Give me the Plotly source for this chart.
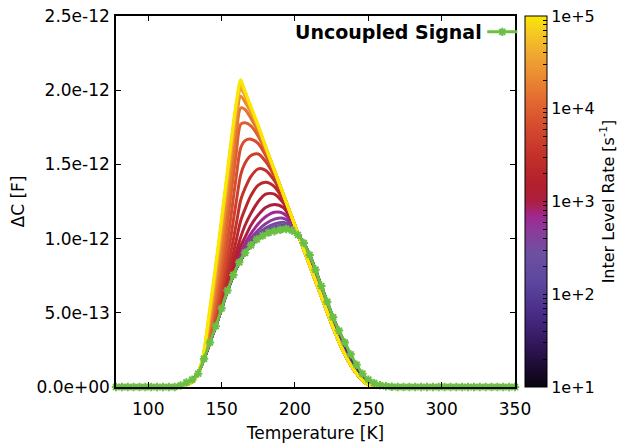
import numpy as np
import plotly.graph_objects as go
from plotly.colors import sample_colorscale

# ---------------- data (capacitance values in pF = 1e-12 F) ----------------
T_GRID = [78, 116, 122, 130, 136, 142, 148, 154, 160, 163, 166, 170, 175, 180, 186,
          192, 198, 204, 210, 218, 226, 234, 242, 250, 258, 266, 350]

RATES = [1e5, 6.81e4, 4.64e4, 3.16e4, 2.15e4, 1.47e4, 1e4, 6.81e3, 4.64e3, 3.16e3,
         2.15e3, 1.47e3, 1e3, 681, 464, 316, 215, 147, 100, 68.1, 46.4, 31.6, 21.5, 14.7, 10]

C00 = [0, 0, 0.01, 0.03, 0.15, 0.53, 0.98, 1.46, 1.92, 2.07, 1.99, 1.89, 1.76, 1.62, 1.46, 1.30, 1.14, 0.98, 0.82, 0.61, 0.40, 0.22, 0.09, 0.015, 0, 0, 0]
C01 = [0, 0, 0.01, 0.03, 0.15, 0.52, 0.96, 1.45, 1.90, 2.05, 1.99, 1.88, 1.76, 1.62, 1.46, 1.30, 1.14, 0.98, 0.82, 0.61, 0.40, 0.22, 0.09, 0.015, 0, 0, 0]
C02 = [0, 0, 0.01, 0.035, 0.15, 0.50, 0.94, 1.42, 1.89, 2.03, 1.98, 1.88, 1.75, 1.62, 1.46, 1.30, 1.14, 0.98, 0.82, 0.61, 0.40, 0.22, 0.09, 0.015, 0, 0, 0]
C03 = [0, 0, 0.01, 0.035, 0.15, 0.47, 0.90, 1.38, 1.85, 2.01, 1.96, 1.86, 1.75, 1.61, 1.46, 1.30, 1.14, 0.98, 0.82, 0.61, 0.40, 0.22, 0.09, 0.015, 0, 0, 0]
C04 = [0, 0, 0.01, 0.04, 0.145, 0.44, 0.84, 1.32, 1.80, 1.96, 1.92, 1.85, 1.74, 1.61, 1.46, 1.30, 1.14, 0.98, 0.82, 0.61, 0.40, 0.22, 0.09, 0.015, 0, 0, 0]
C05 = [0, 0, 0.01, 0.04, 0.14, 0.40, 0.76, 1.22, 1.71, 1.88, 1.87, 1.81, 1.72, 1.60, 1.45, 1.30, 1.14, 0.98, 0.82, 0.61, 0.40, 0.22, 0.09, 0.015, 0, 0, 0]
C06 = [0, 0, 0.01, 0.04, 0.14, 0.37, 0.68, 1.11, 1.58, 1.77, 1.78, 1.76, 1.69, 1.59, 1.45, 1.30, 1.14, 0.98, 0.82, 0.61, 0.40, 0.22, 0.09, 0.015, 0, 0, 0]
C07 = [0, 0, 0.01, 0.04, 0.14, 0.34, 0.61, 0.98, 1.42, 1.61, 1.66, 1.67, 1.64, 1.56, 1.44, 1.29, 1.14, 0.98, 0.82, 0.61, 0.40, 0.22, 0.09, 0.015, 0, 0, 0]
C08 = [0, 0, 0.01, 0.04, 0.14, 0.33, 0.56, 0.87, 1.25, 1.43, 1.51, 1.56, 1.57, 1.52, 1.42, 1.29, 1.14, 0.98, 0.82, 0.61, 0.40, 0.22, 0.09, 0.015, 0, 0, 0]
C09 = [0, 0, 0.01, 0.04, 0.14, 0.31, 0.52, 0.79, 1.10, 1.26, 1.34, 1.42, 1.47, 1.46, 1.39, 1.28, 1.14, 0.98, 0.82, 0.61, 0.40, 0.22, 0.09, 0.015, 0, 0, 0]
C10 = [0, 0, 0.01, 0.04, 0.14, 0.31, 0.50, 0.73, 0.99, 1.12, 1.20, 1.29, 1.36, 1.38, 1.35, 1.26, 1.13, 0.98, 0.82, 0.61, 0.40, 0.22, 0.09, 0.015, 0, 0, 0]
C11 = [0, 0, 0.01, 0.04, 0.14, 0.30, 0.49, 0.70, 0.91, 1.01, 1.09, 1.17, 1.25, 1.30, 1.30, 1.24, 1.13, 0.98, 0.82, 0.61, 0.40, 0.22, 0.09, 0.015, 0, 0, 0]
C12 = [0, 0, 0.01, 0.04, 0.14, 0.30, 0.48, 0.68, 0.86, 0.95, 1.01, 1.09, 1.16, 1.21, 1.23, 1.21, 1.12, 0.98, 0.83, 0.61, 0.40, 0.22, 0.09, 0.015, 0, 0, 0]
C13 = [0, 0, 0.01, 0.04, 0.14, 0.30, 0.475, 0.665, 0.836, 0.907, 0.967, 1.033, 1.10, 1.147, 1.177, 1.17, 1.106, 0.985, 0.832, 0.616, 0.403, 0.221, 0.091, 0.015, 0, 0, 0]
C14 = [0, 0, 0.01, 0.04, 0.14, 0.30, 0.473, 0.658, 0.82, 0.884, 0.94, 1.00, 1.058, 1.10, 1.131, 1.137, 1.093, 0.988, 0.839, 0.62, 0.405, 0.223, 0.091, 0.015, 0, 0, 0]
C15 = [0, 0, 0.01, 0.04, 0.14, 0.30, 0.471, 0.655, 0.811, 0.871, 0.925, 0.98, 1.033, 1.071, 1.099, 1.11, 1.081, 0.991, 0.848, 0.626, 0.408, 0.225, 0.092, 0.015, 0, 0, 0]
C16 = [0, 0, 0.01, 0.04, 0.14, 0.30, 0.47, 0.653, 0.806, 0.864, 0.916, 0.969, 1.018, 1.053, 1.078, 1.091, 1.072, 0.994, 0.859, 0.635, 0.414, 0.228, 0.093, 0.016, 0, 0, 0]
C17 = [0, 0, 0.01, 0.04, 0.14, 0.30, 0.47, 0.652, 0.803, 0.86, 0.911, 0.962, 1.01, 1.043, 1.066, 1.079, 1.065, 0.996, 0.868, 0.645, 0.422, 0.233, 0.095, 0.016, 0, 0, 0]
C18 = [0, 0, 0.01, 0.04, 0.14, 0.30, 0.47, 0.65, 0.802, 0.858, 0.908, 0.959, 1.006, 1.037, 1.059, 1.072, 1.061, 0.998, 0.876, 0.655, 0.432, 0.242, 0.099, 0.017, 0, 0, 0]
C19 = [0, 0, 0.01, 0.04, 0.14, 0.30, 0.47, 0.65, 0.80, 0.856, 0.907, 0.957, 1.003, 1.034, 1.055, 1.068, 1.058, 0.999, 0.882, 0.664, 0.442, 0.252, 0.104, 0.019, 0.001, 0, 0]
C20 = [0, 0, 0.01, 0.04, 0.14, 0.30, 0.47, 0.65, 0.80, 0.855, 0.906, 0.956, 1.002, 1.032, 1.053, 1.066, 1.057, 0.999, 0.885, 0.67, 0.451, 0.264, 0.111, 0.022, 0.001, 0, 0]
C21 = [0, 0, 0.01, 0.04, 0.14, 0.30, 0.47, 0.65, 0.80, 0.855, 0.905, 0.955, 1.001, 1.031, 1.052, 1.065, 1.056, 1.00, 0.887, 0.674, 0.458, 0.275, 0.12, 0.026, 0.002, 0, 0]
C22 = [0, 0, 0.01, 0.04, 0.14, 0.30, 0.47, 0.65, 0.80, 0.855, 0.905, 0.955, 1.00, 1.03, 1.051, 1.064, 1.056, 1.00, 0.888, 0.677, 0.463, 0.284, 0.129, 0.031, 0.003, 0, 0]
C23 = [0, 0, 0.01, 0.04, 0.14, 0.30, 0.47, 0.65, 0.80, 0.855, 0.905, 0.955, 1.00, 1.03, 1.05, 1.063, 1.055, 1.00, 0.889, 0.678, 0.466, 0.29, 0.136, 0.036, 0.005, 0, 0]
C24 = [0, 0, 0.01, 0.04, 0.14, 0.30, 0.47, 0.65, 0.80, 0.855, 0.905, 0.955, 1.00, 1.03, 1.05, 1.063, 1.055, 1.00, 0.89, 0.679, 0.468, 0.294, 0.141, 0.041, 0.007, 0, 0]

CURVES = [C00, C01, C02, C03, C04, C05, C06, C07, C08, C09, C10, C11, C12,
          C13, C14, C15, C16, C17, C18, C19, C20, C21, C22, C23, C24]

# Uncoupled signal (green, with markers)
T_UNC = [78, 82, 86, 90, 94, 98, 102, 106, 110, 114, 118, 122, 126, 130, 134, 138, 142,
         146, 150, 154, 158, 162, 166, 170, 174, 178, 182, 186, 190, 194, 198, 202, 206,
         210, 214, 218, 222, 226, 230, 234, 238, 242, 246, 250, 254, 258, 262, 266, 270,
         274, 278, 282, 286, 290, 294, 298, 302, 306, 310, 314, 318, 322, 326, 330, 334,
         338, 342, 346, 350]
V_UNC = [0, 0, 0, 0, 0, 0, 0, 0, 0, 0, 0, 0.01, 0.03, 0.05, 0.09, 0.19, 0.30,
         0.41, 0.53, 0.65, 0.755, 0.84, 0.905, 0.955, 0.995, 1.02, 1.04, 1.05, 1.06, 1.065, 1.055, 1.025, 0.97,
         0.89, 0.79, 0.68, 0.575, 0.47, 0.38, 0.30, 0.22, 0.15, 0.09, 0.05, 0.025, 0.012, 0.005, 0.002, 0,
         0, 0, 0, 0, 0, 0, 0, 0, 0, 0, 0, 0, 0, 0, 0, 0,
         0, 0, 0, 0]

Y_TICKS = [0, 0.5, 1.0, 1.5, 2.0, 2.5]
Y_TICKTEXT = ["0.0e+00", "5.0e-13", "1.0e-12", "1.5e-12", "2.0e-12", "2.5e-12"]
X_TICKS = [100, 150, 200, 250, 300, 350]
CB_TICKTEXT = ["1e+1", "1e+2", "1e+3", "1e+4", "1e+5"]

PF = 1e-12  # pF -> F

# ---------------- style ----------------
CSCALE = [
    [0.00, "#0a0410"], [0.06, "#1e0c36"], [0.12, "#33185e"], [0.20, "#4a2c88"],
    [0.28, "#5b469e"], [0.36, "#6e50a2"], [0.42, "#8a3c9a"], [0.46, "#a02890"],
    [0.50, "#ac1f40"], [0.55, "#b4202c"], [0.62, "#c2302a"], [0.70, "#d44a2e"],
    [0.77, "#e26830"], [0.84, "#eb8c32"], [0.90, "#f0aa30"], [0.96, "#f6cc20"],
    [1.00, "#fae800"],
]
GREEN = "#6cbf45"
FONT = "DejaVu Sans"
TICK_SIZE = 17

fig = go.Figure()

# low rate first so that high-rate (yellow) curves end up on top
for rate, vals in reversed(list(zip(RATES, CURVES))):
    frac = (np.log10(rate) - 1.0) / 4.0
    col = sample_colorscale(CSCALE, [frac])[0]
    fig.add_trace(go.Scatter(
        x=T_GRID, y=np.array(vals) * PF, mode="lines",
        line=dict(color=col, width=3, shape="spline", smoothing=0.8),
        showlegend=False, hoverinfo="skip"))

fig.add_trace(go.Scatter(
    x=T_UNC, y=np.array(V_UNC) * PF, mode="lines+markers", name=" ",
    line=dict(color=GREEN, width=3, shape="spline", smoothing=0.6),
    marker=dict(symbol="asterisk-open", size=7, color=GREEN,
                line=dict(color=GREEN, width=2)),
    cliponaxis=False, showlegend=True))

# colorbar (dummy trace)
cb_ticks = []
for dec in range(1, 5):
    for m in range(1, 10):
        cb_ticks.append(dec + np.log10(m))
cb_ticks.append(5.0)
cb_text = []
for v in cb_ticks:
    if abs(v - round(v)) < 1e-9:
        cb_text.append(CB_TICKTEXT[int(round(v)) - 1])
    else:
        cb_text.append("")

fig.add_trace(go.Scatter(
    x=[None, None], y=[None, None], mode="markers", showlegend=False,
    marker=dict(color=[1, 5], cmin=1, cmax=5, colorscale=CSCALE, showscale=True,
                colorbar=dict(
                    x=1.025, xanchor="left", xpad=0, y=0.5, yanchor="middle",
                    len=1.0, lenmode="fraction", ypad=0,
                    thickness=22, thicknessmode="pixels",
                    outlinecolor="black", outlinewidth=1,
                    tickmode="array", tickvals=cb_ticks, ticktext=cb_text,
                    ticks="inside", ticklen=4, tickcolor="black", tickwidth=1,
                    tickfont=dict(family=FONT, size=16, color="black"),
                    title=dict(text="Inter Level Rate [s<sup>-1</sup>]", side="right",
                               font=dict(family=FONT, size=16, color="black")),
                ))))

axis_common = dict(showline=True, linecolor="black", linewidth=1.5, mirror="ticks",
                   ticks="inside", ticklen=5, tickcolor="black", tickwidth=1,
                   showgrid=False, zeroline=False, automargin=False,
                   tickfont=dict(family=FONT, size=TICK_SIZE, color="black"))

fig.update_layout(
    width=629, height=447,
    margin=dict(l=116, r=114, t=16, b=60, autoexpand=False),
    paper_bgcolor="white", plot_bgcolor="white",
    font=dict(family=FONT, size=17, color="black"),
    xaxis=dict(range=[78, 350], tickmode="array", tickvals=X_TICKS,
               ticklabelstandoff=6,
               title=dict(text="Temperature [K]", standoff=9,
                          font=dict(family=FONT, size=17)),
               **axis_common),
    yaxis=dict(range=[0, 2.5e-12], tickmode="array",
               tickvals=[v * PF for v in Y_TICKS], ticktext=Y_TICKTEXT,
               ticklabelstandoff=1,
               title=dict(text="ΔC [F]", standoff=8, font=dict(family=FONT, size=17)),
               **axis_common),
    legend=dict(x=0.918, xanchor="left", y=0.957, yanchor="middle",
                bgcolor="rgba(0,0,0,0)", borderwidth=0,
                font=dict(family=FONT, size=16), itemwidth=30),
    annotations=[dict(text="<b>Uncoupled Signal</b>", x=0.922, y=0.957,
                      xref="paper", yref="paper", xanchor="right", yanchor="middle",
                      showarrow=False, font=dict(family=FONT, size=19, color="black"))],
)

fig.write_html("out.html")
